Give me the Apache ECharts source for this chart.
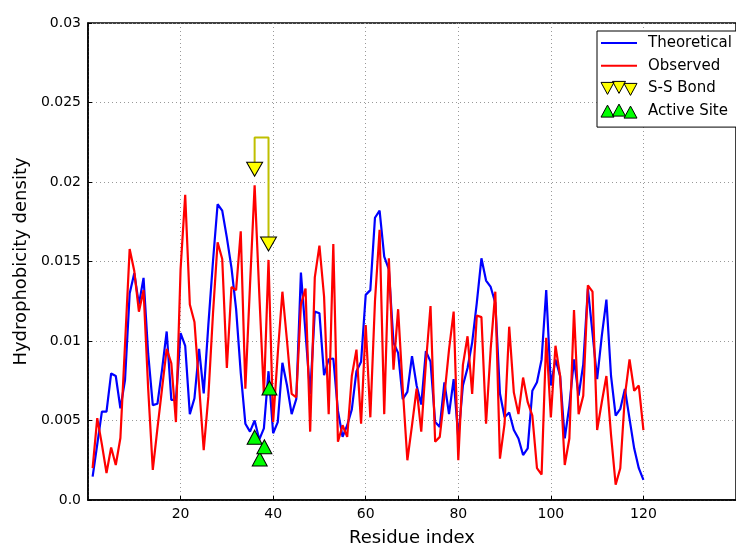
<!DOCTYPE html>
<html>
<head>
<meta charset="utf-8">
<script src="https://cdn.jsdelivr.net/npm/echarts@6/dist/echarts.min.js"></script>
<style>
  html, body { margin: 0; padding: 0; background: #fff; }
  #chart { width: 736px; height: 552px; }
</style>
</head>
<body>
<div id="chart"></div>
<script>
// residue numbers 1..120
const residues = Array.from({ length: 120 }, (_, i) => i + 1);

// hydrophobicity density
const theoretical = [
  0.00147, 0.0035, 0.00556, 0.00556, 0.00796, 0.0078, 0.00576, 0.00755, 0.01298, 0.01426,
  0.0123, 0.01397, 0.0092, 0.00597, 0.00605, 0.0082, 0.0106, 0.0063, 0.0063, 0.0105,
  0.0097, 0.0054, 0.0064, 0.0095, 0.0067, 0.011, 0.015, 0.0186, 0.0182, 0.0165,
  0.0146, 0.012, 0.008, 0.0048, 0.0043, 0.005, 0.0038, 0.0045, 0.0081, 0.0042,
  0.0049, 0.00863, 0.0072, 0.0054, 0.00635, 0.0143, 0.0105, 0.00666, 0.01185, 0.01175,
  0.00785, 0.00885, 0.0089, 0.0056, 0.00397, 0.0047, 0.0057, 0.0081, 0.0087, 0.0129,
  0.0132, 0.01775, 0.0182, 0.0153, 0.0145, 0.0099, 0.00925, 0.00635, 0.0068, 0.00905,
  0.0072, 0.006, 0.00936, 0.0087, 0.0049, 0.0046, 0.0074, 0.0054, 0.0076, 0.0039,
  0.0072, 0.0083, 0.0099, 0.0124, 0.0152, 0.0138, 0.0134, 0.0124, 0.0067, 0.0052,
  0.0055, 0.0044, 0.00387, 0.00283, 0.00325, 0.00687, 0.0074, 0.00884, 0.0132, 0.0072,
  0.00884, 0.0078, 0.00387, 0.00594, 0.00884, 0.00656, 0.00853, 0.0133, 0.0105, 0.0076,
  0.0103, 0.0126, 0.0078, 0.0053, 0.00573, 0.00698, 0.0051, 0.00325, 0.002, 0.00127
];
const observed = [
  0.002, 0.00515, 0.0035, 0.0017, 0.0033, 0.0022, 0.0039, 0.0098, 0.01578, 0.0144,
  0.01184, 0.0132, 0.007, 0.00189, 0.0045, 0.007, 0.0095, 0.0086, 0.0049, 0.0145,
  0.0192, 0.0123, 0.0112, 0.0072, 0.00314, 0.0065, 0.0117, 0.0162, 0.01516, 0.0083,
  0.0134, 0.0132, 0.0169, 0.007, 0.0135, 0.0198, 0.013, 0.0066, 0.0151, 0.0049,
  0.0092, 0.0131, 0.01, 0.00667, 0.00646, 0.0123, 0.0133, 0.0043, 0.014, 0.016,
  0.0128, 0.0054, 0.0161, 0.00366, 0.0047, 0.00397, 0.0078, 0.00946, 0.0048, 0.011,
  0.0052, 0.0125, 0.017, 0.0054, 0.0152, 0.0082, 0.012, 0.007, 0.0025, 0.0047,
  0.007, 0.0043, 0.0086, 0.0122, 0.00366, 0.00397, 0.00656, 0.00946, 0.01185, 0.0025,
  0.0085, 0.0103, 0.00667, 0.0116, 0.0115, 0.0048, 0.0095, 0.0131, 0.0026, 0.0048,
  0.0109, 0.00677, 0.0054, 0.0077, 0.00615, 0.0053, 0.002, 0.0016, 0.0102, 0.0052,
  0.0097, 0.0078, 0.0022, 0.00387, 0.01195, 0.0054, 0.00656, 0.0135, 0.0131, 0.0044,
  0.00615, 0.0078, 0.0041, 0.00096, 0.002, 0.00656, 0.00884, 0.00687, 0.0072, 0.0044
];

// markers: S-S bond (down triangles) and active site (up triangles)
const ssBond = [[36, 0.0208], [39, 0.0161]];
const ssLink = [[36, 0.0208], [36, 0.0228], [39, 0.0228], [39, 0.0161]];
const activeSite = [[36, 0.00395], [37.1, 0.00258], [38.1, 0.00335], [39.2, 0.00704]];

const xTicks = { min: 0, max: 140, step: 20 };
const yTicks = { min: 0, max: 0.03, step: 0.005 };

const font = 'DejaVu Sans';

const chart = echarts.init(document.getElementById('chart'), null, { renderer: 'canvas' });

const option = {
  animation: false,
  backgroundColor: '#fff',
  textStyle: { fontFamily: font },
  grid: {
    left: 88,
    top: 23,
    width: 656,
    height: 482.5,
    show: true,
    borderColor: '#000',
    borderWidth: 1.5,
    backgroundColor: 'transparent'
  },
  legend: {
    orient: 'vertical',
    left: 597,
    top: 31,
    padding: [4, 60, 8, 3],
    itemWidth: 36,
    itemHeight: 14,
    itemGap: 6.7,
    backgroundColor: '#fff',
    borderColor: '#000',
    borderWidth: 1,
    borderRadius: 0,
    textStyle: { fontFamily: font, fontSize: 15, color: '#000', lineHeight: 16, padding: [0, 0, 0, 6] },
    data: [
      { name: 'Theoretical', itemStyle: { opacity: 0 }, lineStyle: { color: '#0000ff', width: 2 } },
      { name: 'Observed', itemStyle: { opacity: 0 }, lineStyle: { color: '#ff0000', width: 2 } },
      {
        name: 'S-S Bond',
        icon: 'path://M0,1 L13,1 L6.5,13 Z M11.5,0 L24.5,0 L18,12 Z M23,2 L36,2 L29.5,14 Z',
        itemStyle: { color: '#ffff00', borderColor: '#000', borderWidth: 1 }
      },
      {
        name: 'Active Site',
        icon: 'path://M0,13 L13,13 L6.5,1 Z M11.5,12 L24.5,12 L18,0 Z M23,14 L36,14 L29.5,2 Z',
        itemStyle: { color: '#00ff00', borderColor: '#000', borderWidth: 1 }
      }
    ]
  },
  xAxis: {
    type: 'value',
    min: xTicks.min,
    max: xTicks.max,
    interval: xTicks.step,
    name: 'Residue index',
    nameLocation: 'middle',
    nameGap: 29,
    nameTextStyle: { fontFamily: font, fontSize: 18, color: '#000' },
    axisLine: { lineStyle: { color: '#000', width: 1.5 } },
    axisTick: { inside: true, length: 4, lineStyle: { color: '#000' } },
    axisLabel: { showMinLabel: false, showMaxLabel: false, margin: 7, fontFamily: font, fontSize: 14, color: '#000' },
    splitLine: { show: true, lineStyle: { color: '#999', type: [1, 3], width: 1 } }
  },
  yAxis: {
    type: 'value',
    min: yTicks.min,
    max: yTicks.max,
    interval: yTicks.step,
    name: 'Hydrophobicity density',
    nameLocation: 'middle',
    nameGap: 57,
    nameTextStyle: { fontFamily: font, fontSize: 18, color: '#000' },
    axisLine: { show: true, lineStyle: { color: '#000', width: 1.5 } },
    axisTick: { show: true, inside: true, length: 4, lineStyle: { color: '#000' } },
    axisLabel: {
      margin: 7,
      fontFamily: font,
      fontSize: 14,
      color: '#000',
      formatter: v => (v === 0 ? '0.0' : String(+v.toFixed(3)))
    },
    splitLine: { show: true, lineStyle: { color: '#999', type: [1, 3], width: 1 } }
  },
  series: [
    {
      name: 'Theoretical',
      type: 'line',
      data: residues.map((r, i) => [r, theoretical[i]]),
      symbol: 'none',
      lineStyle: { color: '#0000ff', width: 2.2 },
      itemStyle: { color: '#0000ff' },
      z: 2
    },
    {
      name: 'Observed',
      type: 'line',
      data: residues.map((r, i) => [r, observed[i]]),
      symbol: 'none',
      lineStyle: { color: '#ff0000', width: 2.2 },
      itemStyle: { color: '#ff0000' },
      z: 3
    },
    {
      name: 'ss-link',
      type: 'line',
      data: ssLink,
      symbol: 'none',
      lineStyle: { color: '#bfbf00', width: 2 },
      z: 4
    },
    {
      name: 'S-S Bond',
      type: 'scatter',
      data: ssBond,
      symbol: 'triangle',
      symbolRotate: 180,
      symbolSize: [16, 14],
      itemStyle: { color: '#ffff00', borderColor: '#000', borderWidth: 1, opacity: 1 },
      z: 5
    },
    {
      name: 'Active Site',
      type: 'scatter',
      data: activeSite,
      symbol: 'triangle',
      symbolSize: [15, 14],
      itemStyle: { color: '#00ff00', borderColor: '#000', borderWidth: 1, opacity: 1 },
      z: 5
    }
  ]
};

chart.setOption(option);
</script>
</body>
</html>
